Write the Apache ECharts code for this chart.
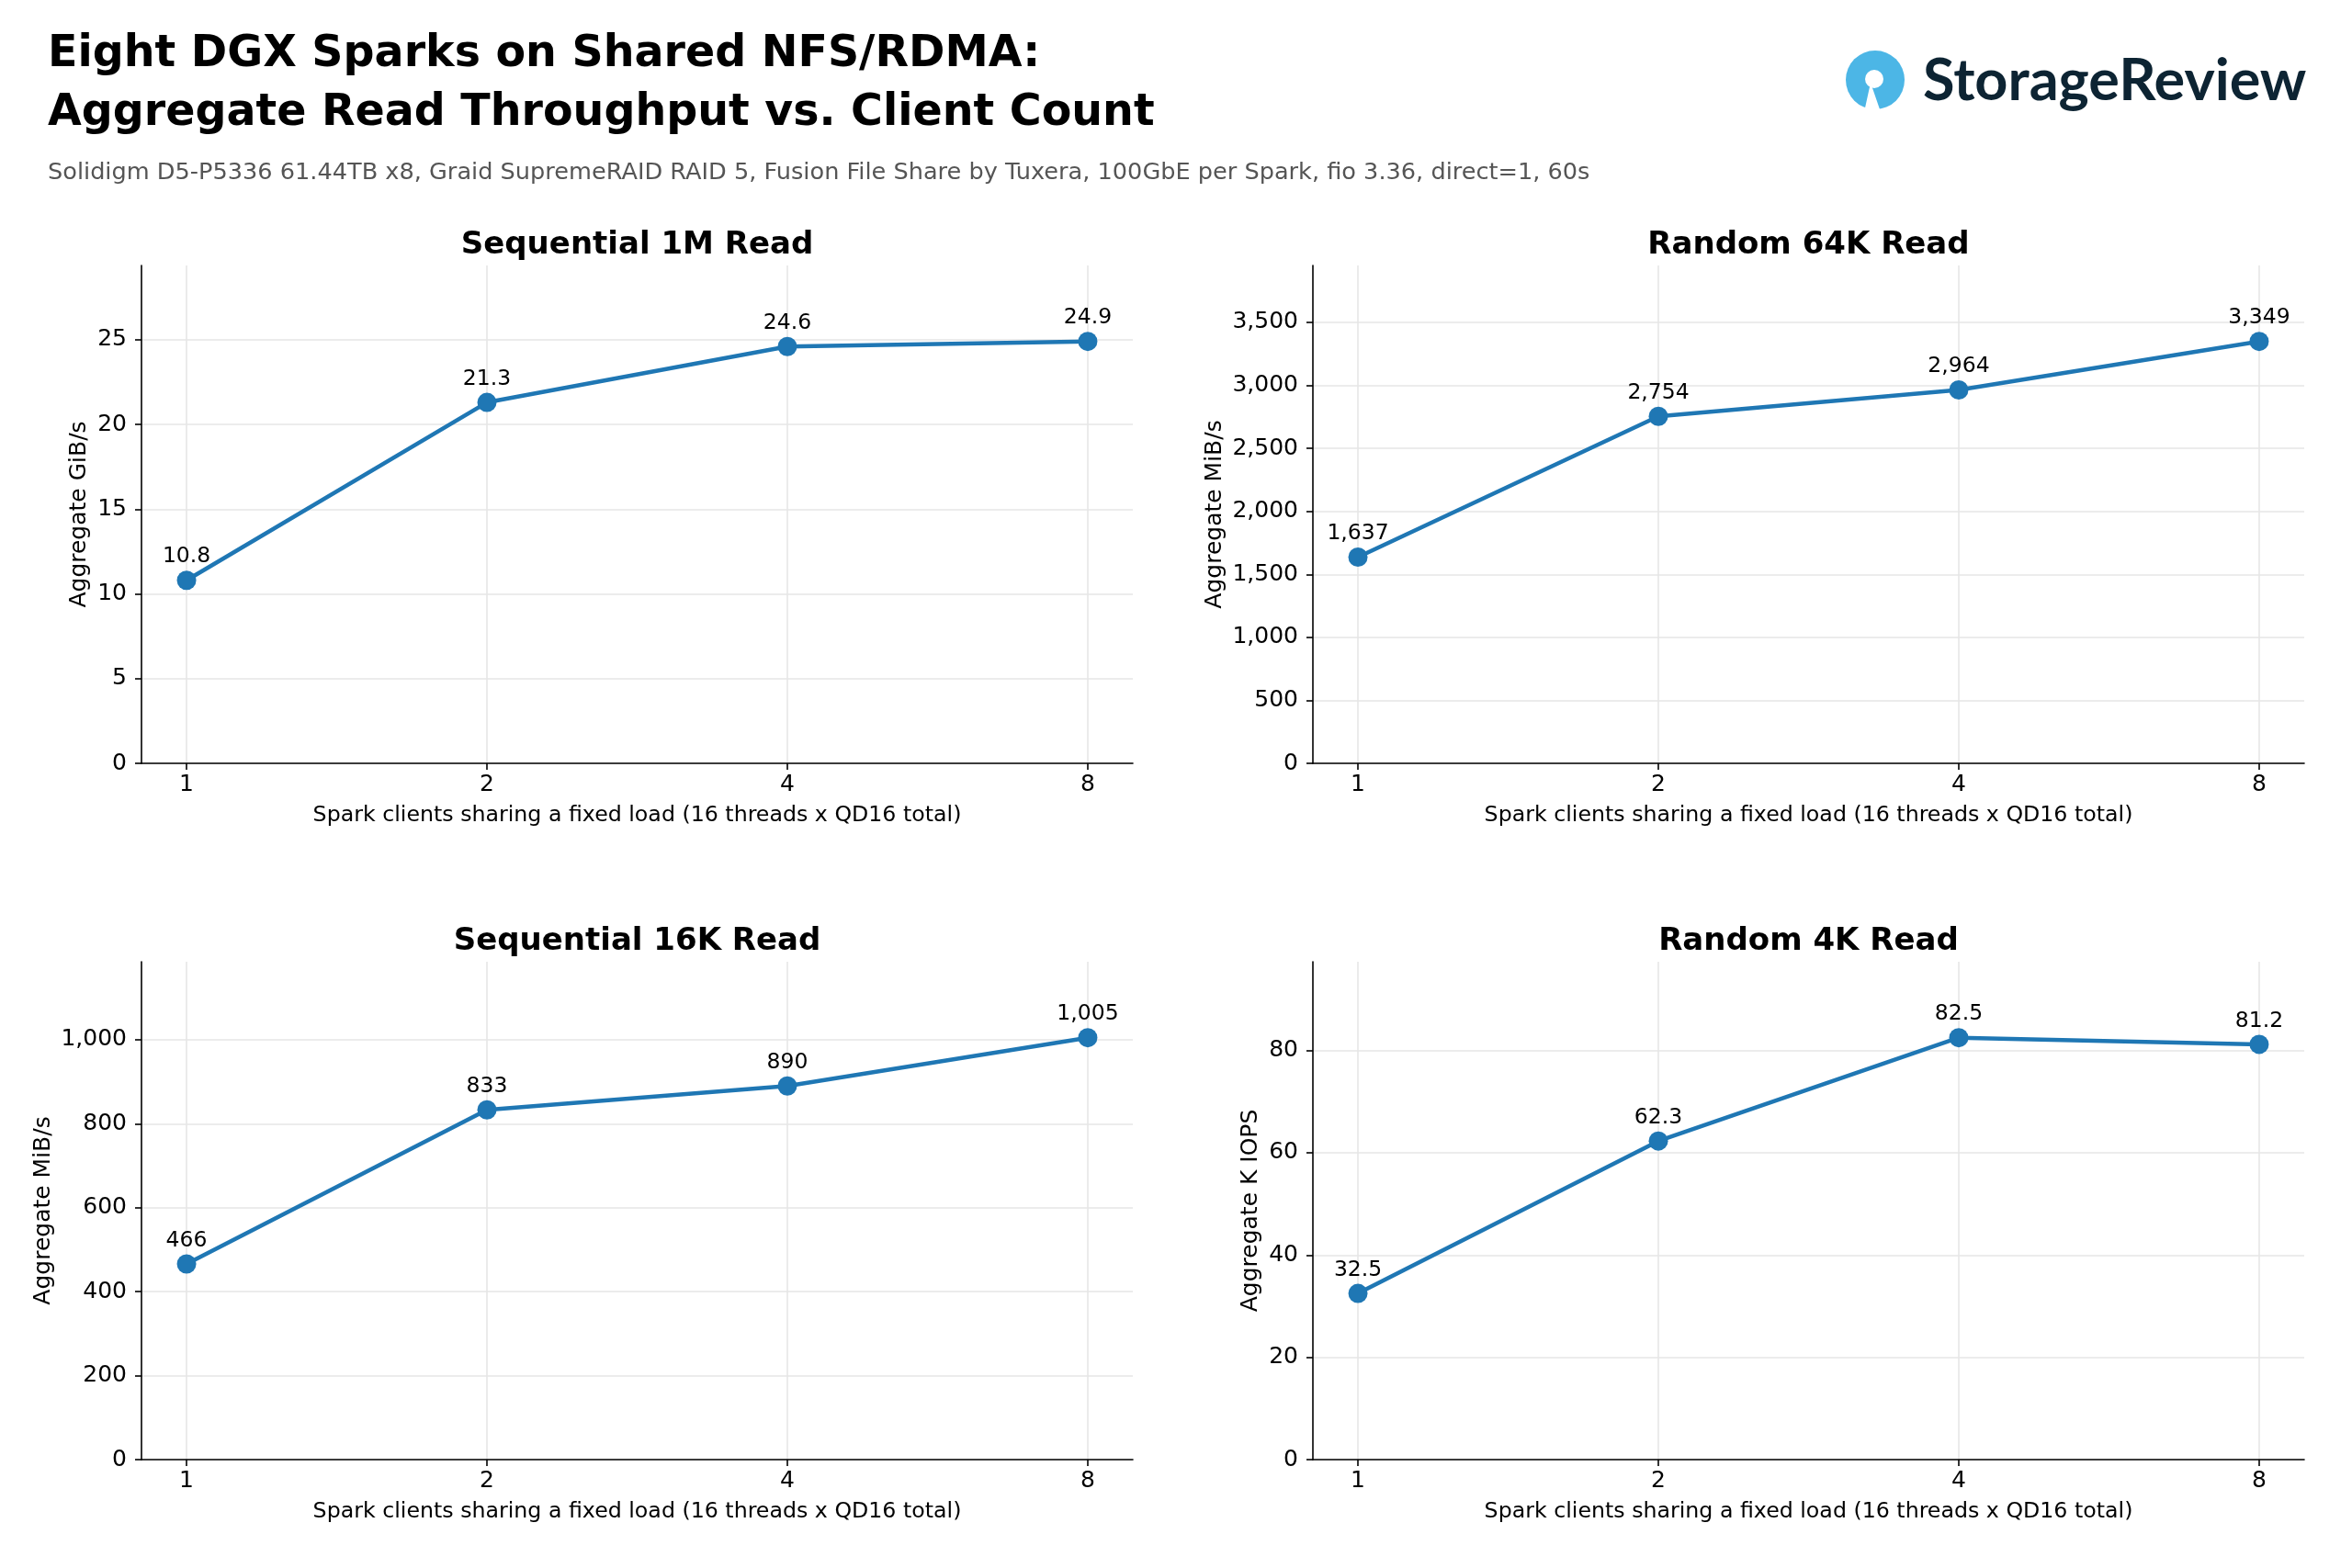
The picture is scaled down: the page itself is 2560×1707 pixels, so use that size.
<!DOCTYPE html>
<html>
<head>
<meta charset="utf-8">
<script src="https://cdn.jsdelivr.net/npm/echarts@6.0.0/dist/echarts.min.js"></script>
<style>html,body{margin:0;padding:0;background:#fff;}</style>
</head>
<body>
<div id="main" style="width:2560px;height:1707px;"></div>

<script type="text/javascript">
// x axis: number of Spark clients
var clients = ['1', '2', '4', '8'];

// aggregate results per test
var seq1m = [10.8, 21.3, 24.6, 24.9];     // GiB/s
var rand64k = [1637, 2754, 2964, 3349];   // MiB/s
var seq16k = [466, 833, 890, 1005];       // MiB/s
var rand4k = [32.5, 62.3, 82.5, 81.2];    // K IOPS

// y tick labels
var seq1mTicks = [0, 5, 10, 15, 20, 25];
var rand64kTicks = [0, 500, 1000, 1500, 2000, 2500, 3000, 3500];
var seq16kTicks = [0, 200, 400, 600, 800, 1000];
var rand4kTicks = [0, 20, 40, 60, 80];

var panelTitles = ['Sequential 1M Read', 'Random 64K Read', 'Sequential 16K Read', 'Random 4K Read'];
var yNames = ['Aggregate GiB/s', 'Aggregate MiB/s', 'Aggregate MiB/s', 'Aggregate K IOPS'];
var xName = 'Spark clients sharing a fixed load (16 threads x QD16 total)';
var mainTitle = ['Eight DGX Sparks on Shared NFS/RDMA:', 'Aggregate Read Throughput vs. Client Count'];
var subTitle = 'Solidigm D5-P5336 61.44TB x8, Graid SupremeRAID RAID 5, Fusion File Share by Tuxera, 100GbE per Spark, fio 3.36, direct=1, 60s';

var seriesData = [seq1m, rand64k, seq16k, rand4k];
var tickData = [seq1mTicks, rand64kTicks, seq16kTicks, rand4kTicks];
var decimals = [1, 0, 0, 1];

// panel layout (px)
var panels = [
    {left: 154, top: 289, nameGap: 55},
    {left: 1429, top: 289, nameGap: 94},
    {left: 154, top: 1047, nameGap: 94},
    {left: 1429, top: 1047, nameGap: 55}
];
var plotW = 1079, plotH = 542;

var FONT = 'DejaVu Sans';
var BLUE = '#1f77b4';
var GRID = '#e6e6e6';

function fmt(v, d) {
    if (d > 0) return v.toFixed(d);
    return Math.round(v).toLocaleString('en-US');
}

var xIdx = clients.map(function (c, i) { return i; });

var grids = [], xAxes = [], yAxes = [], series = [], graphics = [];

panels.forEach(function (p, i) {
    grids.push({left: p.left, top: p.top, width: plotW, height: plotH, outerBoundsMode: 'none', containLabel: false});

    xAxes.push({
        type: 'value', gridIndex: i, min: -0.15, max: xIdx.length - 1 + 0.15,
        name: xName, nameLocation: 'middle', nameGap: 45,
        nameTextStyle: {fontFamily: FONT, fontSize: 23.7, color: '#000'},
        axisLine: {show: true, onZero: false, lineStyle: {color: '#000', width: 1.6}},
        axisTick: {show: true, customValues: xIdx, length: 7, lineStyle: {color: '#000', width: 1.6}},
        axisLabel: {customValues: xIdx, margin: 11, fontFamily: FONT, fontSize: 25, color: '#000',
            formatter: function (v) { return clients[Math.round(v)]; }},
        splitLine: {show: true, lineStyle: {color: GRID, width: 1.6}}
    });

    var d = decimals[i];
    yAxes.push({
        type: 'value', gridIndex: i, min: 0, max: Math.max.apply(null, seriesData[i]) * 1.18,
        name: yNames[i], nameLocation: 'middle', nameGap: p.nameGap, nameRotate: 90,
        nameTextStyle: {fontFamily: FONT, fontSize: 25, color: '#000'},
        axisLine: {show: true, onZero: false, lineStyle: {color: '#000', width: 1.6}},
        axisTick: {show: true, customValues: tickData[i], length: 7, lineStyle: {color: '#000', width: 1.6}},
        axisLabel: {customValues: tickData[i], margin: 16, fontFamily: FONT, fontSize: 25, color: '#000',
            formatter: function (v) { return Math.round(v).toLocaleString('en-US'); }},
        splitLine: {show: true, lineStyle: {color: GRID, width: 1.6}}
    });

    series.push({
        type: 'line', xAxisIndex: i, yAxisIndex: i,
        data: seriesData[i].map(function (v, j) { return [xIdx[j], v]; }),
        symbol: 'circle', symbolSize: 21,
        lineStyle: {color: BLUE, width: 4.5},
        itemStyle: {color: BLUE},
        label: {show: true, position: 'top', distance: 3, fontFamily: FONT, fontSize: 23.5, color: '#000',
            formatter: function (pr) { return fmt(pr.value[1], d); }},
        emphasis: {disabled: true},
        animation: false
    });

    graphics.push({
        type: 'text', x: p.left + plotW / 2, y: p.top - 11.5 - 10,
        style: {text: panelTitles[i], fill: '#000', textAlign: 'center', textVerticalAlign: 'middle',
            font: 'bold 34px "' + FONT + '"'}
    });
});

// figure titles
graphics.push({
    type: 'text', x: 52, y: 74 - 14.4,
    style: {text: mainTitle[0], fill: '#000', textAlign: 'left', textVerticalAlign: 'middle', font: 'bold 47.5px "' + FONT + '"'}
});
graphics.push({
    type: 'text', x: 52, y: 138 - 14.4,
    style: {text: mainTitle[1], fill: '#000', textAlign: 'left', textVerticalAlign: 'middle', font: 'bold 47.5px "' + FONT + '"'}
});
graphics.push({
    type: 'text', x: 52, y: 196 - 7.6,
    style: {text: subTitle, fill: '#555555', textAlign: 'left', textVerticalAlign: 'middle', font: '25.6px "' + FONT + '"'}
});

// logo
graphics.push({type: 'circle', shape: {cx: 2041, cy: 87, r: 32}, style: {fill: '#4cb6e6'}});
graphics.push({type: 'polygon', shape: {points: [[2036, 90], [2029, 122], [2047, 122]]}, style: {fill: '#fff'}});
graphics.push({type: 'circle', shape: {cx: 2040, cy: 86, r: 10}, style: {fill: '#fff'}});
graphics.push({
    type: 'text', x: 2093, y: 89,
    style: {text: 'StorageReview', fill: '#0d2433', textAlign: 'left', textVerticalAlign: 'middle', font: 'bold 63px "Lato"'}
});

var option = {
    backgroundColor: '#fff',
    animation: false,
    grid: grids,
    xAxis: xAxes,
    yAxis: yAxes,
    series: series,
    graphic: {elements: graphics}
};

var myChart = echarts.init(document.getElementById('main'));
myChart.setOption(option);
</script>
</body>
</html>
